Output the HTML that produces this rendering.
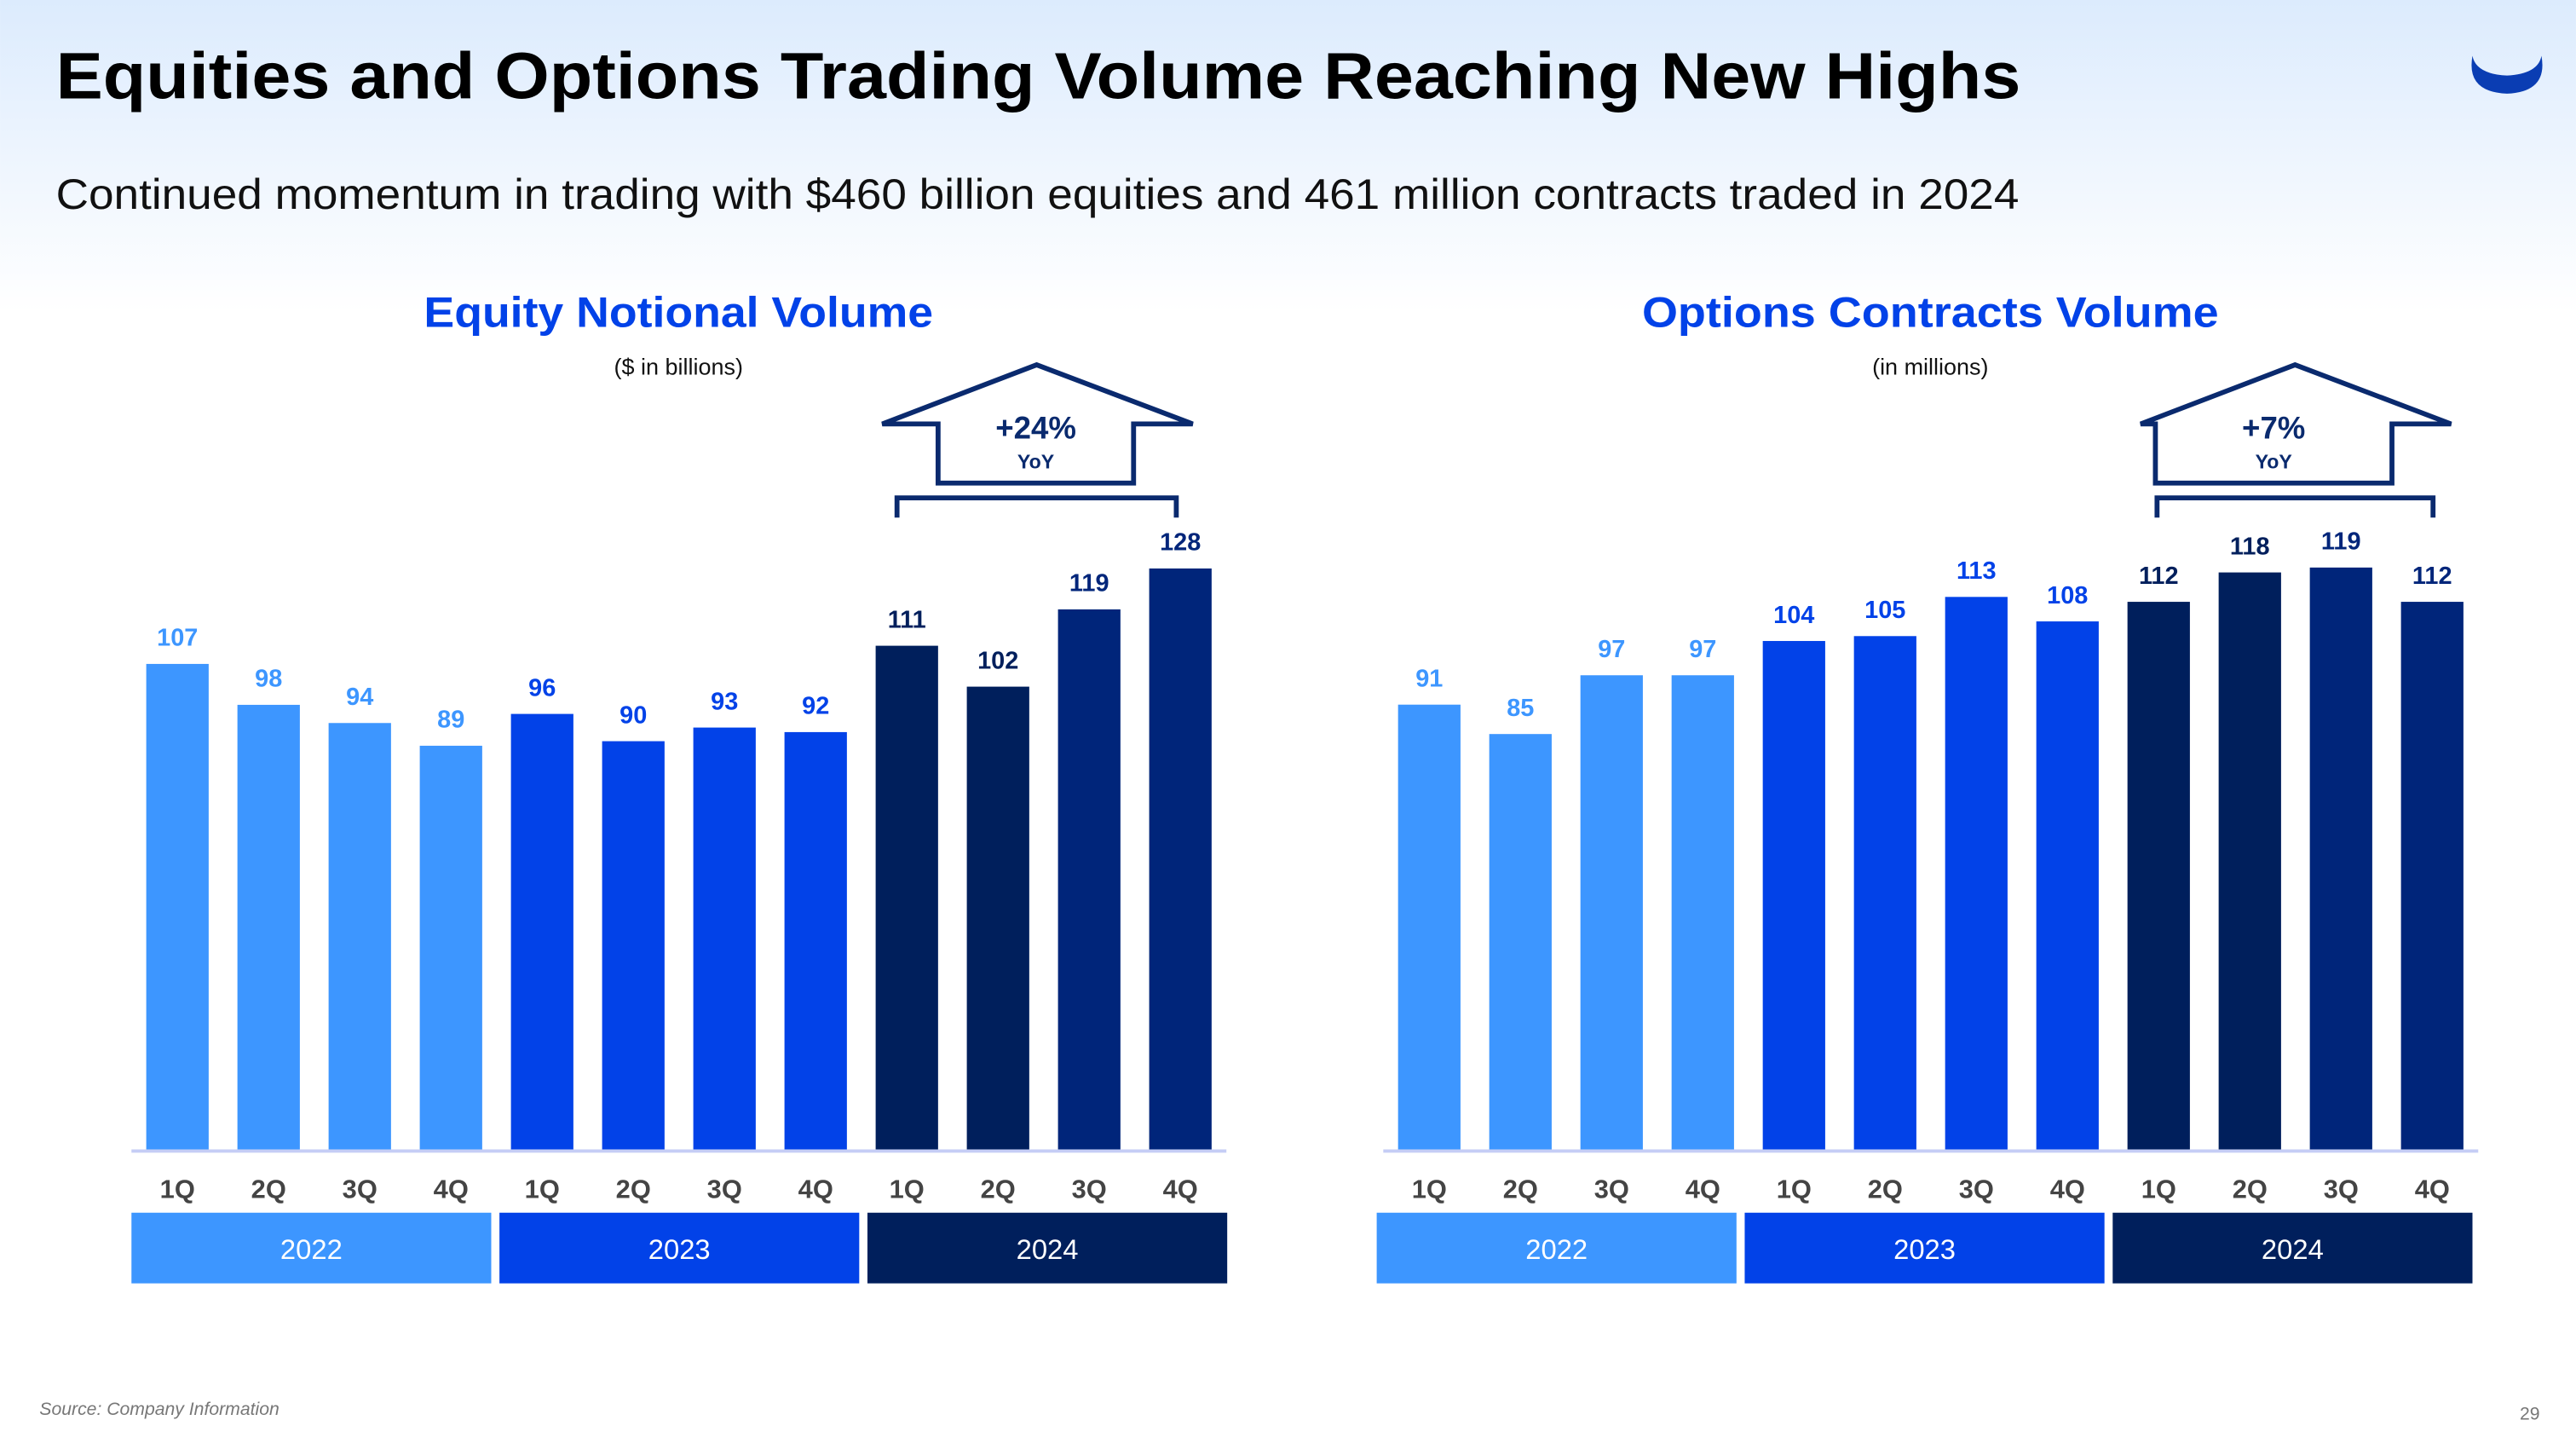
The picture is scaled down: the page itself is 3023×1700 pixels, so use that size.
<!DOCTYPE html>
<html><head><meta charset="utf-8"><style>
html,body{margin:0;padding:0;width:3023px;height:1700px;overflow:hidden;background:#fff}
svg{display:block}
text{font-family:"Liberation Sans",sans-serif}
</style></head><body>
<svg id="slide" width="3023" height="1700" viewBox="0 0 1568 881.8" xmlns="http://www.w3.org/2000/svg">
<defs><linearGradient id="bg" x1="0" y1="0" x2="0" y2="1"><stop offset="0" stop-color="#dcebfd"/><stop offset="1" stop-color="#ffffff"/></linearGradient></defs>
<rect x="0" y="0" width="1568" height="190" fill="url(#bg)"/>
<text x="34" y="60" font-size="40" font-weight="bold" fill="#000" textLength="1196" lengthAdjust="spacingAndGlyphs">Equities and Options Trading Volume Reaching New Highs</text>
<text x="34" y="127" font-size="26" fill="#111" textLength="1195" lengthAdjust="spacingAndGlyphs">Continued momentum in trading with $460 billion equities and 461 million contracts traded in 2024</text>
<path d="M1505,34 Q1501,56 1526,57 Q1551,56 1547,34 Q1545,45 1526,46 Q1507,45 1505,34 Z" fill="#0a3db3"/>
<g id="charts"></g>
<text x="24" y="861" font-size="11" font-style="italic" fill="#777">Source: Company Information</text>
<text x="1546" y="864" font-size="11" fill="#777" text-anchor="end">29</text>
</svg>
<script>
const quarters = ["1Q","2Q","3Q","4Q","1Q","2Q","3Q","4Q","1Q","2Q","3Q","4Q"];
const years = ["2022","2023","2024"];
const equityValues = [107,98,94,89,96,90,93,92,111,102,119,128];
const optionsValues = [91,85,97,97,104,105,113,108,112,118,119,112];
const equityYoY = "+24%";
const optionsYoY = "+7%";

const NS = "http://www.w3.org/2000/svg";
const root = document.getElementById('charts');
const barColors = ["#3d96ff","#3d96ff","#3d96ff","#3d96ff","#0242e8","#0242e8","#0242e8","#0242e8","#001f5c","#001f5c","#00257a","#00257a"];
const yearColors = ["#3d96ff","#0242e8","#001f5c"];
function mk(tag, attrs, parent){const e=document.createElementNS(NS,tag);for(const k in attrs)e.setAttribute(k,attrs[k]);(parent||root).appendChild(e);return e;}

function drawChart(cfg){
  const g = mk('g',{});
  
  
  const base = 700, pitch = 55.5, bw = 38;
  const x = i => cfg.x0 + i*pitch;
  const y = v => base - v*cfg.k;
  let t = mk('text',{x:cfg.cx,y:199,'font-size':26,'font-weight':'bold',fill:'#0242e8','text-anchor':'middle',textLength:cfg.tl,lengthAdjust:'spacingAndGlyphs'},g);
  t.textContent = cfg.title;
  
  
  t = mk('text',{x:cfg.cx,y:228,'font-size':14,fill:'#111','text-anchor':'middle'},g);
  t.textContent = cfg.unit;
  
  
  cfg.values.forEach((v,i)=>{
    const r = mk('rect',{x:x(i),y:y(v),width:bw,height:v*cfg.k,fill:barColors[i]},g);
    
    
    const l = mk('text',{x:x(i)+bw/2,y:y(v)-11,'font-size':15,'font-weight':'bold',fill:barColors[i],'text-anchor':'middle'},g);
    l.textContent = v;
    
    
    const q = mk('text',{x:x(i)+bw/2,y:729,'font-size':16,'font-weight':'bold',fill:'#444','text-anchor':'middle'},g);
    q.textContent = quarters[i];
    
    
  });
  const ax = mk('line',{x1:cfg.x0-9,x2:cfg.x0+11*pitch+bw+9,y1:base+0.5,y2:base+0.5,stroke:'#c5cdf5','stroke-width':2},g);
  
  
  years.forEach((yr,j)=>{
    const bx = cfg.bandX + j*224;
    const r = mk('rect',{x:bx,y:738,width:219,height:43,fill:yearColors[j]},g);
    
    
    const tt = mk('text',{x:bx+109.5,y:766,'font-size':17,fill:'#fff','text-anchor':'middle'},g);
    tt.textContent = yr;
    
    
  });
  const a = cfg.arrow;
  const p = mk('path',{d:`M${a.l},258 L${a.c},222 L${a.r},258 L${a.br},258 L${a.br},294 L${a.bl},294 L${a.bl},258 Z`,fill:'#fff',stroke:'#0a2a6e','stroke-width':3,'stroke-linejoin':'miter'},g);
  
  
  t = mk('text',{x:(a.bl+a.br)/2,y:267,'font-size':19,'font-weight':'bold',fill:'#0a2a6e','text-anchor':'middle'},g);
  t.textContent = cfg.yoy;
  
  
  t = mk('text',{x:(a.bl+a.br)/2,y:285,'font-size':12,'font-weight':'bold',fill:'#0a2a6e','text-anchor':'middle'},g);
  t.textContent = 'YoY';
  
  
  const b = mk('path',{d:`M${cfg.brL},315 L${cfg.brL},303 L${cfg.brR},303 L${cfg.brR},315`,fill:'none',stroke:'#0a2a6e','stroke-width':3},g);
  
  
}
drawChart({name:'equity-chart',title:'Equity Notional Volume',unit:'($ in billions)',cx:413,tl:310,x0:89,bandX:80,brL:546,brR:716,k:2.766,values:equityValues,yoy:equityYoY,arrow:{l:537,c:631,r:726,bl:571,br:690}});
drawChart({name:'options-chart',title:'Options Contracts Volume',unit:'(in millions)',cx:1175,tl:351,x0:851,bandX:838,brL:1313,brR:1481,k:2.98,values:optionsValues,yoy:optionsYoY,arrow:{l:1303,c:1397,r:1492,bl:1312,br:1456}});
</script>
</body></html>
